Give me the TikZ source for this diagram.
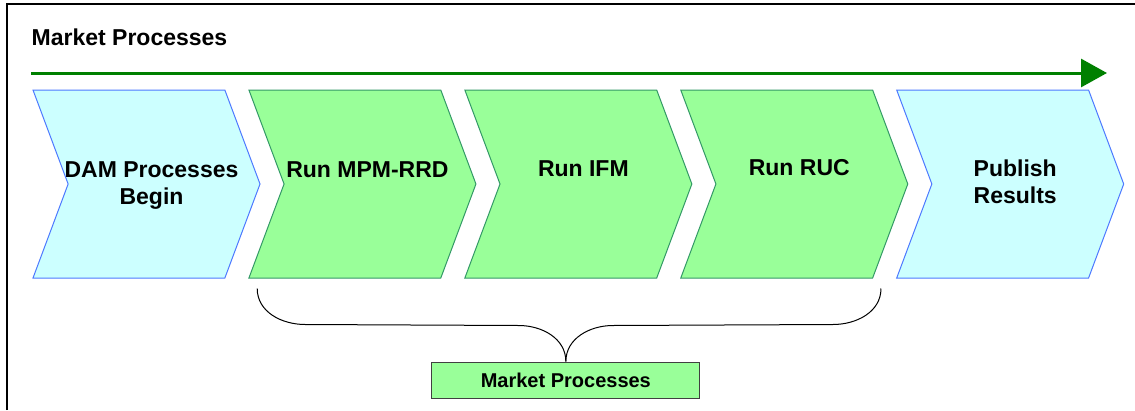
\documentclass[tikz,border=0pt]{standalone}
\usepackage{fontspec}
\setmainfont{Liberation Sans}
\usetikzlibrary{positioning,shapes.symbols,arrows.meta}
\definecolor{cyanfill}{HTML}{CCFFFF}
\definecolor{cyanline}{HTML}{4D79FF}
\definecolor{greenfill}{HTML}{99FF99}
\definecolor{greenline}{HTML}{339966}
\definecolor{flowgreen}{HTML}{008000}
\tikzstyle{chevron} = [signal, signal to=east, signal from=west, signal pointer angle=139, minimum width=227pt, minimum height=188pt, inner sep=0pt, line width=1pt]
\tikzstyle{outer} = [chevron, fill=cyanfill, draw=cyanline]
\tikzstyle{run} = [chevron, fill=greenfill, draw=greenline]
\tikzstyle{chevtext} = [align=center, xshift=5pt, font=\fontsize{23}{27}\selectfont\bfseries]
\tikzstyle{tagbox} = [rectangle, minimum width=268pt, minimum height=36pt, fill=greenfill, draw=black!75, line width=1.2pt, font=\fontsize{20}{24}\selectfont\bfseries]
\tikzstyle{flow} = [line width=3pt, flowgreen, -{Triangle[length=26pt,width=28pt]}]
\tikzstyle{curly} = [line width=1pt, black]

\begin{document}
\begin{tikzpicture}[x=1pt, y=1pt, node distance=23pt]
\useasboundingbox (0,0) rectangle (1135,-410);
\draw [line width=2pt] (7,-410) -- (7,-4) -- (1135,-4);

\node (title) [anchor=base west, inner sep=0pt, font=\fontsize{23}{27}\selectfont\bfseries] at (31.5,-45.5) {Market Processes};
\coordinate (flowstart) at (31,-73);
\coordinate (flowend) at (1107,-73);
\draw [flow] (flowstart) -- (flowend);

\node (dam) [outer, label={[chevtext, yshift=-2pt]center:DAM Processes\\Begin}] at (146.5,-184) {};
\node (mpm) [run, right=of dam, label={[chevtext, yshift=14pt]center:Run MPM-RRD}] {};
\node (ifm) [run, right=of mpm, label={[chevtext, yshift=15pt]center:Run IFM}] {};
\node (ruc) [run, right=of ifm, label={[chevtext, yshift=16pt]center:Run RUC}] {};
\node (publish) [outer, right=of ruc, label={[chevtext, yshift=2pt]center:Publish\\Results}] {};

\node (market) [tagbox, below=83pt of ifm, xshift=-12.5pt] {Market Processes};

\draw [curly] ([shift={(9,-10)}]mpm.south west) to[out=-90,in=180] ++(48,-36)
  -- ([shift={(-47,36)}]market.north) to[out=0,in=90] (market.north);
\draw [curly] ([shift={(8,-10)}]ruc.south east) to[out=-90,in=0] ++(-48,-36)
  -- ([shift={(47,36)}]market.north) to[out=180,in=90] (market.north);
\end{tikzpicture}
\end{document}
